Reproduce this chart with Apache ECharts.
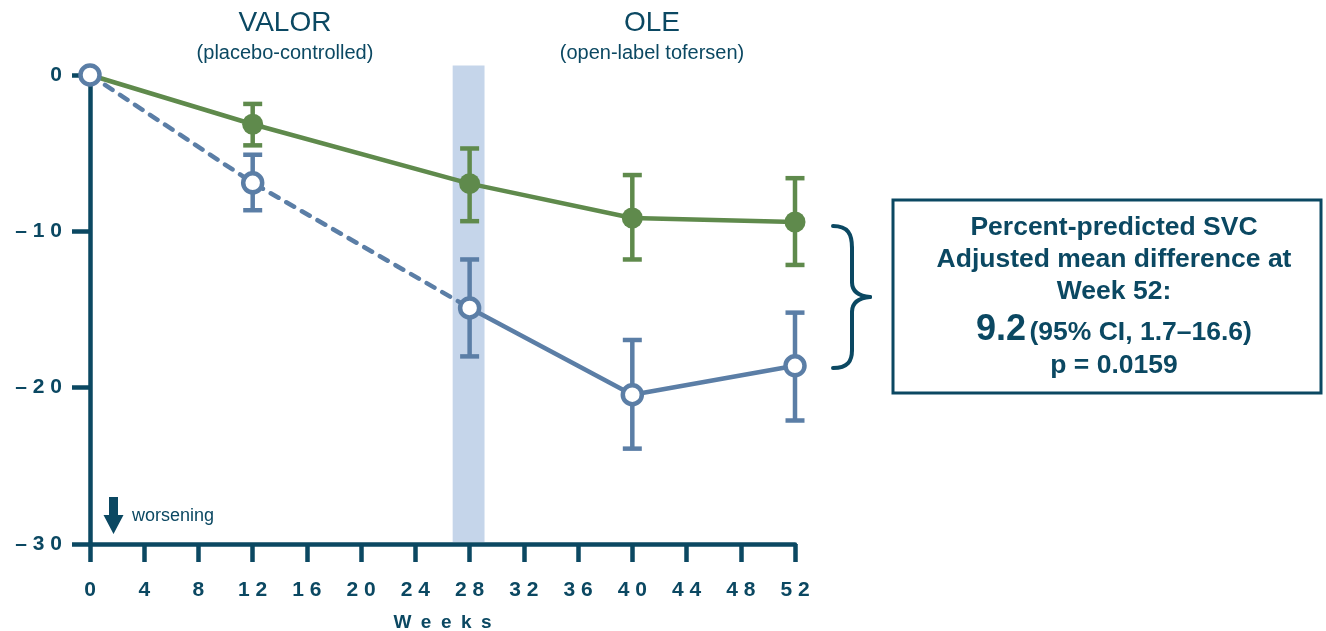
<!DOCTYPE html>
<html>
<head>
<meta charset="utf-8">
<title>SVC</title>
<script src="https://cdn.jsdelivr.net/npm/echarts@6/dist/echarts.min.js"></script>
<style>
	html, body {
		margin: 0;
		padding: 0;
		background: #fff;
	}
	#box {
		width: 1326px;
		height: 631px;
	}
</style>
</head>
<body>
<div id="box"></div>
<script>
	// data
	var weeks = [0, 12, 28, 40, 52];
	var earlyMean = [0, -3.15, -6.95, -9.15, -9.4];
	var earlyLo = [null, -4.5, -9.35, -11.8, -12.15];
	var earlyHi = [null, -1.85, -4.7, -6.4, -6.6];
	var delayedMean = [0, -6.9, -14.9, -20.45, -18.6];
	var delayedLo = [null, -8.65, -18.0, -23.9, -22.1];
	var delayedHi = [null, -5.1, -11.8, -16.95, -15.2];
	var bandWeeks = [26.75, 29.1];
	var bandTop = 0.6;
	var xTicks = [0, 52, 4];
	var yTicks = [-30, 0, 10];

	var navy = '#0b4862';
	var green = '#5f8a4c';
	var blue = '#5b7ea6';
	var band = '#c5d5ea';
	var font = '"Liberation Sans", Arial, sans-serif';

	function pairs(xs, ys) {
		var out = [];
		for (var i = 0; i < xs.length; i++) {
			if (ys[i] !== null) out.push([xs[i], ys[i]]);
		}
		return out;
	}
	function errData(lo, hi) {
		var out = [];
		for (var i = 0; i < weeks.length; i++) {
			if (lo[i] !== null) out.push([weeks[i], lo[i], hi[i]]);
		}
		return out;
	}
	function spaced(s) {
		return s.split('').join(' ');
	}
	function errRenderer(color) {
		return function (params, api) {
			var a = api.coord([api.value(0), api.value(2)]);
			var b = api.coord([api.value(0), api.value(1)]);
			var hw = 9.5;
			var st = { stroke: color, lineWidth: 4.5 };
			return {
				type: 'group',
				children: [
					{ type: 'line', shape: { x1: a[0], y1: a[1], x2: b[0], y2: b[1] }, style: st },
					{ type: 'line', shape: { x1: a[0] - hw, y1: a[1], x2: a[0] + hw, y2: a[1] }, style: st },
					{ type: 'line', shape: { x1: b[0] - hw, y1: b[1], x2: b[0] + hw, y2: b[1] }, style: st }
				]
			};
		};
	}

	var delayedDash = pairs(weeks.slice(0, 3), delayedMean.slice(0, 3));
	var delayedSolid = pairs(weeks.slice(2), delayedMean.slice(2));

	var braceStyle = { stroke: navy, lineWidth: 4, fill: null, lineCap: 'round' };
	var boxFont = 'bold 26.5px ' + font;

	var myChart = echarts.init(document.getElementById('box'));
	var option = {
		animation: false,
		textStyle: { fontFamily: font },
		grid: { left: 90, right: 531, top: 75, bottom: 87, containLabel: false, outerBoundsMode: 'none' },
		xAxis: {
			type: 'value',
			min: xTicks[0],
			max: xTicks[1],
			interval: xTicks[2],
			z: 3,
			name: spaced('Weeks').replace(/ /g, '\u2002'),
			nameLocation: 'middle',
			nameGap: 69,
			nameTextStyle: { color: navy, fontSize: 19, fontWeight: 'bold', fontFamily: font },
			splitLine: { show: false },
			axisLine: { onZero: false, lineStyle: { color: navy, width: 4.5 } },
			axisTick: { inside: false, length: 18, lineStyle: { color: navy, width: 4.5 } },
			axisLabel: {
				color: navy,
				fontSize: 21,
				fontWeight: 'bold',
				fontFamily: font,
				margin: 36,
				formatter: function (v) { return spaced(String(v)); }
			}
		},
		yAxis: {
			type: 'value',
			min: yTicks[0],
			max: yTicks[1],
			interval: yTicks[2],
			z: 3,
			splitLine: { show: false },
			axisLine: { show: true, onZero: false, lineStyle: { color: navy, width: 4.5 } },
			axisTick: { show: true, length: 18, lineStyle: { color: navy, width: 4.5 } },
			axisLabel: {
				color: navy,
				fontSize: 21,
				fontWeight: 'bold',
				fontFamily: font,
				margin: 28,
				formatter: function (v) {
					if (v === 0) return '0';
					return '\u2013 ' + spaced(String(-v));
				}
			}
		},
		series: [
			{
				// transition band around week 28
				type: 'custom',
				z: 1,
				clip: false,
				silent: true,
				data: [[bandWeeks[0], bandWeeks[1], bandTop, yTicks[0]]],
				renderItem: function (params, api) {
					var p1 = api.coord([api.value(0), api.value(2)]);
					var p2 = api.coord([api.value(1), api.value(3)]);
					return {
						type: 'rect',
						shape: { x: p1[0], y: p1[1], width: p2[0] - p1[0], height: p2[1] - p1[1] - 2 },
						style: { fill: band }
					};
				}
			},
			{
				type: 'custom',
				z: 4,
				silent: true,
				clip: false,
				data: errData(earlyLo, earlyHi),
				encode: { x: 0, y: [1, 2] },
				renderItem: errRenderer(green)
			},
			{
				type: 'custom',
				z: 4,
				silent: true,
				clip: false,
				data: errData(delayedLo, delayedHi),
				encode: { x: 0, y: [1, 2] },
				renderItem: errRenderer(blue)
			},
			{
				type: 'line',
				z: 5,
				symbol: 'none',
				data: pairs(weeks, earlyMean),
				lineStyle: { color: green, width: 4.5 }
			},
			{
				type: 'line',
				z: 5,
				symbol: 'none',
				data: delayedDash,
				lineStyle: { color: blue, width: 4.5, type: [9, 9], cap: 'round' }
			},
			{
				type: 'line',
				z: 5,
				symbol: 'none',
				data: delayedSolid,
				lineStyle: { color: blue, width: 4.5 }
			},
			{
				type: 'scatter',
				z: 6,
				symbol: 'circle',
				symbolSize: 21,
				data: pairs(weeks.slice(1), earlyMean.slice(1)),
				itemStyle: { color: green, opacity: 1 }
			},
			{
				type: 'scatter',
				z: 7,
				symbol: 'circle',
				symbolSize: 19,
				data: pairs(weeks, delayedMean),
				itemStyle: { color: '#fff', borderColor: blue, borderWidth: 4.5, opacity: 1 }
			}
		],
		graphic: [
			{ type: 'text', x: 285, y: 23, style: { text: 'VALOR', font: '28px ' + font, fill: navy, align: 'center', verticalAlign: 'middle' } },
			{ type: 'text', x: 285, y: 53, style: { text: '(placebo-controlled)', font: '20px ' + font, fill: navy, align: 'center', verticalAlign: 'middle' } },
			{ type: 'text', x: 652, y: 23, style: { text: 'OLE', font: '28px ' + font, fill: navy, align: 'center', verticalAlign: 'middle' } },
			{ type: 'text', x: 652, y: 53, style: { text: '(open-label tofersen)', font: '20px ' + font, fill: navy, align: 'center', verticalAlign: 'middle' } },
			// worsening arrow
			{
				type: 'polygon',
				shape: { points: [[109, 497], [118, 497], [118, 515], [123.5, 515], [113.5, 534], [103.5, 515], [109, 515]] },
				style: { fill: navy }
			},
			{ type: 'text', x: 132, y: 516, style: { text: 'worsening', font: '18px ' + font, fill: navy, verticalAlign: 'middle' } },
			// brace
			{ type: 'bezierCurve', shape: { x1: 833, y1: 226, cpx1: 848, cpy1: 226, cpx2: 852, cpy2: 234, x2: 852, y2: 248 }, style: braceStyle },
			{ type: 'line', shape: { x1: 852, y1: 248, x2: 852, y2: 282 }, style: braceStyle },
			{ type: 'bezierCurve', shape: { x1: 852, y1: 282, cpx1: 852, cpy1: 291, cpx2: 858, cpy2: 296, x2: 870, y2: 297 }, style: braceStyle },
			{ type: 'bezierCurve', shape: { x1: 870, y1: 297, cpx1: 858, cpy1: 298, cpx2: 852, cpy2: 303, x2: 852, y2: 312 }, style: braceStyle },
			{ type: 'line', shape: { x1: 852, y1: 312, x2: 852, y2: 350 }, style: braceStyle },
			{ type: 'bezierCurve', shape: { x1: 852, y1: 350, cpx1: 852, cpy1: 361, cpx2: 848, cpy2: 368, x2: 833, y2: 368 }, style: braceStyle },
			// summary box
			{
				type: 'rect',
				shape: { x: 893, y: 200, width: 428, height: 193 },
				style: { stroke: navy, lineWidth: 3, fill: '#fff' }
			},
			{
				type: 'text',
				x: 1114,
				y: 228,
				style: { text: 'Percent-predicted SVC', font: boxFont, fill: navy, align: 'center', verticalAlign: 'middle' }
			},
			{
				type: 'text',
				x: 1114,
				y: 260,
				style: { text: 'Adjusted mean difference at', font: boxFont, fill: navy, align: 'center', verticalAlign: 'middle' }
			},
			{
				type: 'text',
				x: 1114,
				y: 292,
				style: { text: 'Week 52:', font: boxFont, fill: navy, align: 'center', verticalAlign: 'middle' }
			},
			{
				type: 'text',
				x: 1114,
				y: 330,
				style: {
					text: '{big|9.2} {norm|(95% CI, 1.7\u201316.6)}',
					align: 'center',
					verticalAlign: 'middle',
					rich: {
						big: { font: 'bold 36px ' + font, fill: navy, verticalAlign: 'bottom' },
						norm: { font: boxFont, fill: navy, verticalAlign: 'bottom', padding: [0, 0, 2, 0] }
					}
				}
			},
			{
				type: 'text',
				x: 1114,
				y: 366,
				style: { text: 'p = 0.0159', font: boxFont, fill: navy, align: 'center', verticalAlign: 'middle' }
			}
		]
	};
	myChart.setOption(option);
</script>
</body>
</html>
